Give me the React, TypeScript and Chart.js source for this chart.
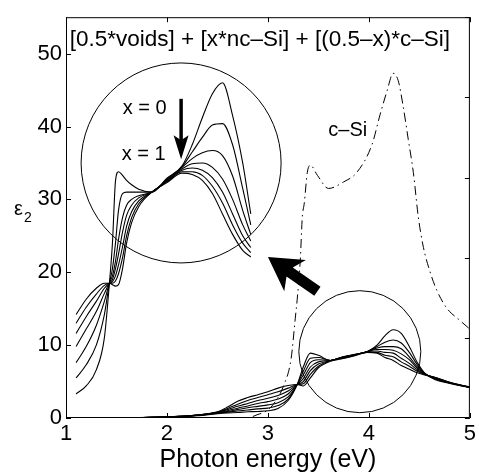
import React, { useEffect, useRef } from 'react';
import { Chart, registerables } from 'chart.js';
Chart.register(...registerables);

const FONT = "'Liberation Sans', Arial, Helvetica, sans-serif";

// ---- axes ----
const xMin = 1, xMax = 5, xStep = 1;
const yMin = 0, yMax = 55, yStep = 10;
const rightTickMax = 50; // right-hand tick marks (box ticks)

// ---- main curves (x = 0 ... x = 1) ----
const mainX = [1.45, 1.7, 2.0, 2.3, 2.5, 2.6, 2.7, 2.8, 2.9, 3.0, 3.1, 3.2, 3.29, 3.35, 3.42, 3.5, 3.62, 3.72, 3.85, 3.98, 4.08, 4.16, 4.24, 4.32, 4.4, 4.48, 4.55, 4.65, 4.8, 5.0];
const main0 = [0, 0.05, 0.12, 0.3, 0.6, 0.7, 0.75, 0.85, 0.9, 1.0, 1.3, 2.4, 4.6, 7.0, 8.9, 8.6, 7.9, 8.3, 8.7, 9.1, 10.0, 11.3, 12.1, 11.6, 9.8, 7.6, 6.2, 5.3, 4.75, 4.15];
const main1 = [0, 0.05, 0.12, 0.35, 0.65, 0.8, 0.95, 1.1, 1.25, 1.35, 1.7, 2.6, 4.6, 6.4, 8.2, 8.3, 7.9, 8.3, 8.7, 9.1, 9.8, 10.4, 10.7, 10.3, 9.0, 7.3, 6.15, 5.4, 4.8, 4.2];
const main2 = [0, 0.05, 0.15, 0.35, 0.7, 0.9, 1.15, 1.4, 1.6, 1.8, 2.1, 2.9, 4.6, 5.9, 7.6, 8.0, 7.9, 8.25, 8.65, 9.1, 9.6, 9.8, 9.8, 9.5, 8.4, 7.0, 6.1, 5.45, 4.8, 4.2];
const main3 = [0, 0.05, 0.15, 0.4, 0.75, 1.0, 1.35, 1.65, 2.0, 2.25, 2.6, 3.3, 4.6, 5.4, 7.0, 7.7, 7.9, 8.2, 8.6, 9.1, 9.4, 9.4, 9.3, 8.8, 8.0, 6.8, 6.05, 5.5, 4.85, 4.2];
const main4 = [0, 0.05, 0.15, 0.4, 0.8, 1.15, 1.6, 2.0, 2.4, 2.7, 3.1, 3.7, 4.6, 5.0, 6.5, 7.4, 7.9, 8.2, 8.6, 9.1, 9.2, 9.0, 8.9, 8.2, 7.5, 6.6, 6.0, 5.55, 4.85, 4.2];
const main5 = [0, 0.05, 0.15, 0.4, 0.8, 1.3, 1.9, 2.4, 2.8, 3.2, 3.6, 4.1, 4.6, 4.7, 6.0, 7.1, 7.9, 8.15, 8.55, 9.0, 9.0, 8.6, 8.4, 7.7, 7.1, 6.4, 6.0, 5.6, 4.9, 4.2];
const main6 = [0, 0.05, 0.15, 0.4, 0.85, 1.5, 2.3, 2.8, 3.2, 3.6, 4.1, 4.45, 4.6, 4.4, 5.5, 6.9, 7.8, 8.1, 8.5, 9.0, 8.9, 8.3, 7.9, 7.2, 6.7, 6.2, 5.9, 5.6, 4.9, 4.25];

// ---- magnified inset curves ----
const insetX = [1.1, 1.2, 1.3, 1.38, 1.43, 1.46, 1.49, 1.52, 1.56, 1.6, 1.65, 1.72, 1.85, 2.0, 2.15, 2.25, 2.35, 2.45, 2.55, 2.65, 2.75, 2.83];
const inset0 = [3.3, 4.4, 6.6, 11.0, 18.5, 24.0, 32.5, 33.8, 33.3, 32.6, 32.0, 31.4, 31.0, 32.9, 34.6, 37.5, 41.2, 44.5, 46.0, 41.5, 35.0, 28.0];
const inset1 = [5.5, 7.3, 10.0, 14.2, 18.5, 20.5, 24.0, 28.5, 30.8, 31.0, 31.0, 31.0, 31.0, 32.8, 34.5, 36.5, 38.5, 40.2, 40.4, 37.5, 31.5, 26.5];
const inset2 = [7.6, 9.8, 12.7, 16.0, 18.5, 19.5, 21.5, 24.5, 27.5, 29.2, 30.0, 30.5, 31.0, 32.7, 34.4, 35.6, 36.4, 36.7, 36.0, 33.2, 28.5, 25.2];
const inset3 = [9.8, 12.2, 14.6, 17.1, 18.5, 19.0, 20.5, 22.5, 25.5, 27.8, 29.2, 30.2, 31.0, 32.6, 34.2, 34.9, 35.0, 34.4, 32.8, 30.0, 26.5, 24.3];
const inset4 = [11.6, 13.9, 16.0, 17.8, 18.5, 18.7, 19.5, 21.0, 23.5, 26.3, 28.3, 29.8, 31.0, 32.5, 34.0, 34.3, 34.0, 33.0, 31.0, 28.0, 25.0, 23.4];
const inset5 = [13.0, 15.2, 17.0, 18.2, 18.5, 18.5, 18.8, 19.8, 22.0, 25.0, 27.5, 29.4, 31.0, 32.4, 33.8, 33.8, 33.3, 31.8, 29.5, 26.5, 24.0, 22.7];
const inset6 = [14.2, 16.3, 17.8, 18.5, 18.5, 18.3, 18.1, 18.3, 20.5, 24.0, 26.8, 29.0, 31.0, 32.3, 33.6, 33.4, 32.6, 30.8, 28.0, 25.2, 23.0, 22.1];

// ---- c-Si reference ----
const cSiX = [2.85, 3.03, 3.16, 3.23, 3.27, 3.29, 3.32, 3.34, 3.36, 3.39, 3.42, 3.49, 3.6, 3.75, 3.88, 4.03, 4.11, 4.18, 4.24, 4.29, 4.34, 4.39, 4.44, 4.49, 4.54, 4.6, 4.67, 4.77, 4.9, 5.0];
const cSiY = [0.2, 1.5, 4.6, 8.2, 13.6, 16.3, 21.6, 27.5, 29.5, 33.7, 34.7, 33.3, 31.5, 32.4, 33.7, 37.5, 41.6, 44.9, 47.3, 46.3, 42.7, 38.2, 33.7, 27.5, 23.4, 20.3, 17.6, 15.1, 13.4, 12.2];

// ---- circles (centre in data units) ----
const bigCircle = { x: 2.14, y: 35.0 };
const smallCircle = { x: 3.91, y: 9.1 };

// ---- annotations (data units) ----
const bigArrowTail = { x: 3.49, y: 17.4 };
const bigArrowTip = { x: 3.0, y: 22.1 };
const smallArrowTop = { x: 2.14, y: 43.8 };
const smallArrowTip = { x: 2.14, y: 35.5 };
const textLabels = [
  { text: '[0.5*voids] + [x*nc–Si] + [(0.5–x)*c–Si]', x: 2.92, y: 51.9, size: 22.5 },
  { text: 'x = 0', x: 1.78, y: 42.5, size: 20 },
  { text: 'x = 1', x: 1.77, y: 36.1, size: 20 },
  { text: 'c–Si', x: 3.79, y: 39.5, size: 20 },
];
const yLabelAt = 28.6;

const toPts = (xs: number[], ys: number[]) => xs.map((x, i) => ({ x, y: ys[i] }));

const curve = (xs: number[], ys: number[]) => ({
  data: toPts(xs, ys),
  borderColor: '#000',
  borderWidth: 1.1,
  pointRadius: 0,
  fill: false,
  cubicInterpolationMode: 'monotone' as const,
});

const circle = (c: { x: number; y: number }, r: number) => ({
  data: [c],
  showLine: false,
  pointRadius: r,
  pointBorderColor: '#000',
  pointBackgroundColor: 'rgba(0,0,0,0)',
  pointBorderWidth: 1,
  clip: false as const,
});

const decor = {
  id: 'decor',
  afterDatasetsDraw(chart: any) {
    const { ctx, chartArea: a, scales } = chart;
    const xs = scales.x, ys = scales.y, yr = scales.y2;
    const px = (x: number) => xs.getPixelForValue(x);
    const py = (y: number) => ys.getPixelForValue(y);
    ctx.save();
    ctx.strokeStyle = '#000';
    ctx.lineWidth = 1;
    ctx.strokeRect(a.left + 0.5, a.top + 0.5, a.right - a.left - 1, a.bottom - a.top - 1);
    const tl = 5;
    ctx.beginPath();
    xs.ticks.forEach((t: any) => {
      const X = Math.round(px(t.value)) + 0.5;
      ctx.moveTo(X, a.bottom); ctx.lineTo(X, a.bottom - tl);
      ctx.moveTo(X, a.top); ctx.lineTo(X, a.top + tl);
    });
    ys.ticks.forEach((t: any) => {
      const Y = Math.round(py(t.value)) + 0.5;
      ctx.moveTo(a.left, Y); ctx.lineTo(a.left + tl, Y);
    });
    yr.ticks.forEach((t: any) => {
      const Y = Math.round(yr.getPixelForValue(t.value)) + 0.5;
      ctx.moveTo(a.right, Y); ctx.lineTo(a.right - tl, Y);
    });
    ctx.stroke();

    // big arrow
    const tx = px(bigArrowTip.x), ty = py(bigArrowTip.y);
    const sx = px(bigArrowTail.x), sy = py(bigArrowTail.y);
    const len = Math.hypot(tx - sx, ty - sy);
    const ux = (tx - sx) / len, uy = (ty - sy) / len;
    const nx = -uy, ny = ux;
    const L = 33, W = 19, s = 5.5;
    ctx.fillStyle = '#000';
    ctx.beginPath();
    ctx.moveTo(tx, ty);
    ctx.lineTo(tx - ux * L + nx * W, ty - uy * L + ny * W);
    ctx.lineTo(tx - ux * L * 0.8 + nx * s, ty - uy * L * 0.8 + ny * s);
    ctx.lineTo(sx + nx * s, sy + ny * s);
    ctx.lineTo(sx - nx * s, sy - ny * s);
    ctx.lineTo(tx - ux * L * 0.8 - nx * s, ty - uy * L * 0.8 - ny * s);
    ctx.lineTo(tx - ux * L - nx * W, ty - uy * L - ny * W);
    ctx.closePath();
    ctx.fill();

    // small arrow
    const ax = px(smallArrowTop.x), ay0 = py(smallArrowTop.y), ay1 = py(smallArrowTip.y);
    ctx.lineWidth = 3.5;
    ctx.beginPath();
    ctx.moveTo(ax, ay0); ctx.lineTo(ax, ay1 - 18);
    ctx.stroke();
    ctx.beginPath();
    ctx.moveTo(ax, ay1);
    ctx.lineTo(ax - 7.5, ay1 - 24);
    ctx.lineTo(ax, ay1 - 19);
    ctx.lineTo(ax + 7.5, ay1 - 24);
    ctx.closePath();
    ctx.fill();

    // texts
    ctx.textAlign = 'center';
    ctx.textBaseline = 'middle';
    textLabels.forEach((l) => {
      ctx.font = `${l.size}px ${FONT}`;
      ctx.fillText(l.text, px(l.x), py(l.y));
    });
    // y label epsilon_2
    const ey = py(yLabelAt);
    ctx.textAlign = 'left';
    ctx.font = `20px ${FONT}`;
    ctx.fillText('ε', 14, ey);
    ctx.font = `14px ${FONT}`;
    ctx.fillText('2', 24, ey + 9);
    ctx.restore();
  },
};

export default function App() {
  const ref = useRef<HTMLCanvasElement>(null);
  useEffect(() => {
    const mains = [main0, main1, main2, main3, main4, main5, main6];
    const insets = [inset0, inset1, inset2, inset3, inset4, inset5, inset6];
    const datasets: any[] = [
      ...mains.map((m) => curve(mainX, m)),
      ...insets.map((m) => curve(insetX, m)),
      { ...curve(cSiX, cSiY), borderDash: [9, 4, 1.5, 4], borderWidth: 1 },
      circle(bigCircle, 100),
      circle(smallCircle, 61),
    ];
    const chart = new Chart(ref.current as HTMLCanvasElement, {
      type: 'line',
      data: { datasets },
      options: {
        animation: false,
        responsive: false,
        events: [],
        layout: { autoPadding: false, padding: { left: 0, right: 5, top: 7, bottom: 0 } },
        plugins: { legend: { display: false }, tooltip: { enabled: false }, title: { display: false } },
        scales: {
          x: {
            type: 'linear', min: xMin, max: xMax,
            ticks: { stepSize: xStep, color: '#000', font: { size: 22, family: FONT }, padding: 3, maxRotation: 0 },
            grid: { display: false, drawTicks: false },
            border: { display: false },
            title: { display: true, text: 'Photon energy (eV)', color: '#000', font: { size: 25, family: FONT }, padding: { top: 0, bottom: 0 } },
            afterFit: (s: any) => { s.height = 57; },
          },
          y: {
            type: 'linear', min: yMin, max: yMax,
            ticks: { stepSize: yStep, includeBounds: false, color: '#000', font: { size: 22, family: FONT }, padding: 4 },
            grid: { display: false, drawTicks: false },
            border: { display: false },
            afterFit: (s: any) => { s.width = 66; },
          },
          y2: {
            type: 'linear', position: 'right', min: 0, max: rightTickMax,
            ticks: { stepSize: 10, display: false },
            grid: { display: false, drawTicks: false },
            border: { display: false },
            afterFit: (s: any) => { s.width = 0; },
          },
        },
      } as any,
      plugins: [decor],
    });
    return () => chart.destroy();
  }, []);
  return (
    <canvas
      ref={ref}
      width={479}
      height={475}
      style={{ position: 'absolute', left: 0, top: 0, width: 479, height: 475, display: 'block' }}
    />
  );
}
